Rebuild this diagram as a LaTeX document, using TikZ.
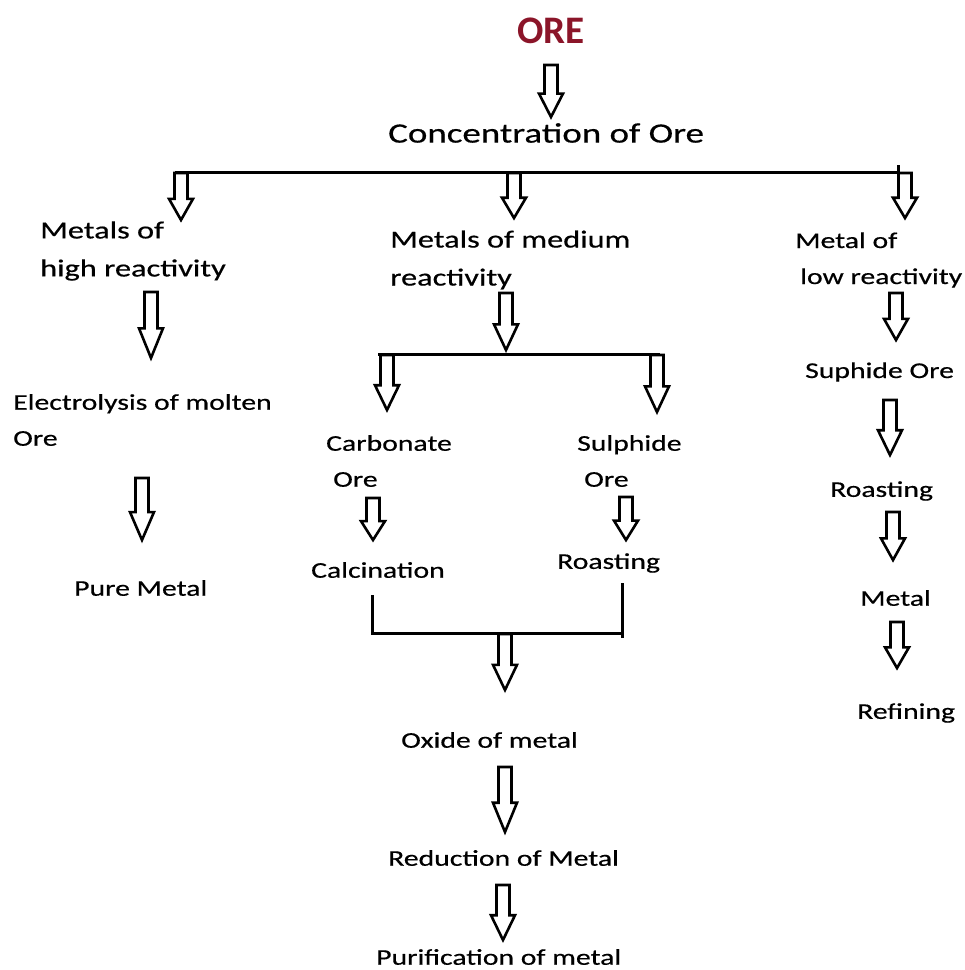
\documentclass[tikz,border=0pt]{standalone}
\usepackage{fontspec}
\setmainfont{Carlito}[FakeStretch=1.32,FakeBold=0.5]
\newfontfamily\plainfamily{Carlito}
\usetikzlibrary{calc}
\definecolor{paper}{HTML}{FFFFFF}
\definecolor{ink}{HTML}{000000}
\definecolor{orered}{HTML}{8B1529}
\tikzset{
  bar/.style={draw=ink,line width=3pt},
  hollow/.style={draw=ink,fill=paper,line width=2.6pt,line join=miter},
  step text/.style={anchor=west,inner sep=0pt,align=left,text=ink},
  every node/.style={text=ink}
}
\newcommand{\titlefont}{\plainfamily\bfseries\fontsize{39}{42}\selectfont}
\newcommand{\headfont}{\fontsize{28}{32}\selectfont}
\newcommand{\groupfont}{\fontsize{24.5}{38}\selectfont}
\newcommand{\stepfont}{\fontsize{22.5}{36}\selectfont}
% hollow block arrow from top point #1 down to tip #2
\newcommand{\hollowarrow}[2]{%
  \path[hollow] let \p1=#1, \p2=#2, \n1={0.45*(\y1-\y2)} in
    (\x1-6.5pt,\y1) -- (\x1+6.5pt,\y1) -- (\x1+6.5pt,\y2+\n1)
    -- (\x1+12pt,\y2+\n1) -- (\x1,\y2) -- (\x1-12pt,\y2+\n1)
    -- (\x1-6.5pt,\y2+\n1) -- cycle;
}

\begin{document}
\begin{tikzpicture}[x=1pt,y=-1pt]
  \useasboundingbox (0,0) rectangle (965,970);
  \fill[paper] (0,0) rectangle (965,970);

  % ============================ TOP ============================
  \node[font=\titlefont,text=orered] (ore) at (551,31) {ORE};
  \hollowarrow{(551,65)}{(551,117)}
  \node[step text,font=\headfont] (conc) at (388,133) {Concentration of Ore};

  % main split bar
  \coordinate (topL) at (175,172);
  \coordinate (topR) at (898,172);
  \draw[bar] (topL) -- (topR);
  \draw[bar] (898,165) -- (topR);
  \hollowarrow{(181,173)}{(181,220)}
  \hollowarrow{(514,173)}{(514,218)}
  \hollowarrow{(905,173)}{(905,218)}

  % ====================== HIGH REACTIVITY ======================
  \node[step text,font=\groupfont] (high) at (40,251)
    {Metals of\\high reactivity};
  \hollowarrow{(151,292)}{(151,358)}
  \node[step text,font=\stepfont] (electro) at (13,420)
    {Electrolysis of molten\\Ore};
  \hollowarrow{(142,478)}{(142,540)}
  \node[step text,font=\stepfont] (pure) at (74,588) {Pure Metal};

  % ===================== MEDIUM REACTIVITY =====================
  \node[step text,font=\groupfont] (medium) at (390,260)
    {Metals of medium\\reactivity};
  \hollowarrow{(506,293)}{(506,350)}
  \coordinate (midL) at (378,354);
  \coordinate (midR) at (660,354);
  \draw[bar] (midL) -- (midR);
  \hollowarrow{(387,355)}{(387,410)}
  \hollowarrow{(657,355)}{(657,412)}

  \node[step text,font=\stepfont] (carb) at (326,461)
    {Carbonate\\\hspace*{7pt}Ore};
  \node[step text,font=\stepfont] (sulph) at (577,461)
    {Sulphide\\\hspace*{7pt}Ore};
  \hollowarrow{(373,498)}{(373,540)}
  \hollowarrow{(626,497)}{(626,540)}
  \node[step text,font=\stepfont] (calc) at (311,570) {Calcination};
  \node[step text,font=\stepfont] (roastm) at (557,563) {Roasting};

  % join of the two ores
  \coordinate (joinL) at (372,633);
  \coordinate (joinR) at (622,633);
  \draw[bar] (372,595) -- (joinL) -- (joinR);
  \draw[bar] (622,583) -- (622,638);
  \hollowarrow{(505,634)}{(505,690)}

  \node[step text,font=\stepfont] (oxide) at (401,740) {Oxide of metal};
  \hollowarrow{(505,767)}{(505,832)}
  \node[step text,font=\stepfont] (reduc) at (388,858) {Reduction of Metal};
  \hollowarrow{(503,885)}{(503,940)}
  \node[step text,font=\stepfont] (purif) at (376,957) {Purification of metal};

  % ======================= LOW REACTIVITY =======================
  \node[step text,font=\stepfont] (low) at (795,260)
    {Metal of\\\hspace*{5pt}low reactivity};
  \hollowarrow{(896,293)}{(896,340)}
  \node[step text,font=\stepfont] (suph) at (805,372) {Suphide Ore};
  \hollowarrow{(890,400)}{(890,455)}
  \node[step text,font=\stepfont] (roastr) at (830,491) {Roasting};
  \hollowarrow{(893,512)}{(893,560)}
  \node[step text,font=\stepfont] (metal) at (860,598) {Metal};
  \hollowarrow{(897,622)}{(897,668)}
  \node[step text,font=\stepfont] (refin) at (857,713) {Refining};
\end{tikzpicture}
\end{document}
